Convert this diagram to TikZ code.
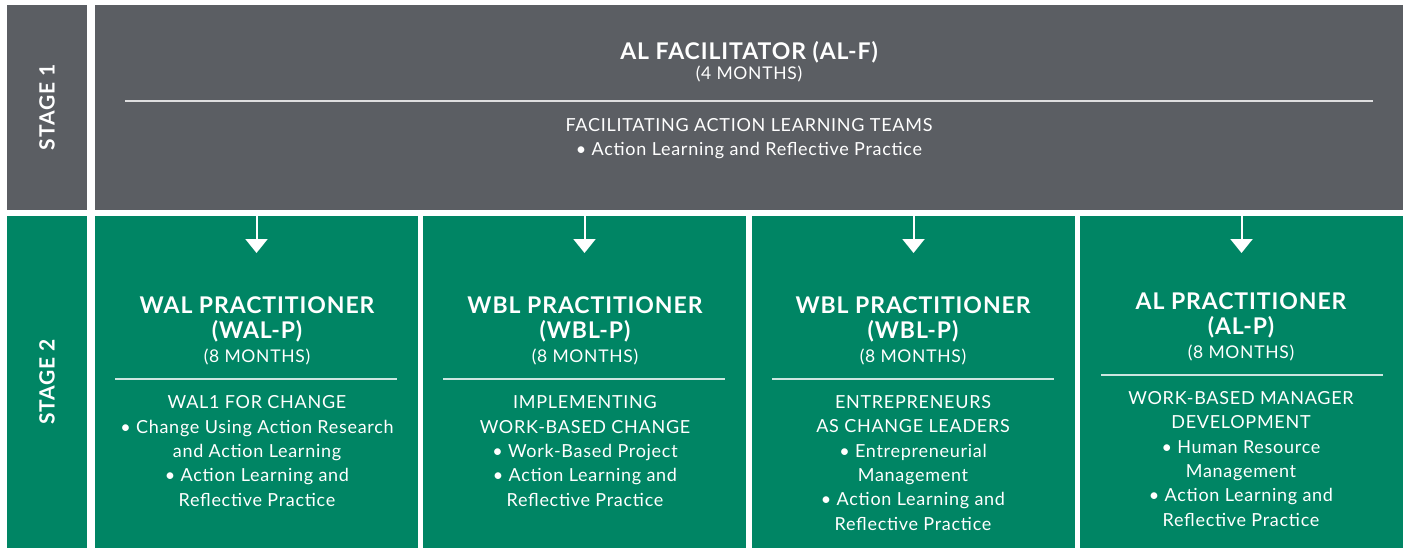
\documentclass[tikz,border=0pt]{standalone}
\usepackage{fontspec}
\setmainfont{Lato}[LetterSpace=4]
\usepackage{tikz}
\usetikzlibrary{arrows.meta,positioning,calc}
\definecolor{stagegrey}{RGB}{91,94,99}
\definecolor{stagegreen}{RGB}{0,133,100}

\begin{document}
\begin{tikzpicture}[x=1pt,y=-1pt]
			\useasboundingbox (0,0) rectangle (1407,548);
			\begin{scope}[every node/.style={rectangle,inner sep=0pt,outer sep=0pt,anchor=north west}]
				\node[fill=stagegrey,minimum width=80,minimum height=205] (S1) at (7,5) {};
				\node[fill=stagegrey,minimum width=1308,minimum height=205] (F) at (95,5) {};
				\node[fill=stagegreen,minimum width=80,minimum height=332] (S2) at (7,216) {};
				\node[fill=stagegreen,minimum width=323,minimum height=332] (P1) at (95,216) {};
				\node[fill=stagegreen,minimum width=323,minimum height=332] (P2) at (423,216) {};
				\node[fill=stagegreen,minimum width=323,minimum height=332] (P3) at (752,216) {};
				\node[fill=stagegreen,minimum width=323,minimum height=332] (P4) at (1080,216) {};
			\end{scope}

			\begin{scope}[every node/.style={text=white,inner sep=0pt,align=center,anchor=base},
				stagelabel/.style={font=\bfseries\fontsize{21}{21}\selectfont,rotate=90,anchor=center},
				heading/.style={font=\bfseries\fontsize{23}{24.5}\selectfont},
				months/.style={font=\fontsize{17.5}{24}\selectfont},
				body/.style={font=\fontsize{18}{24.3}\selectfont}]
				\node[stagelabel] (S1t) at (S1.center) {STAGE 1};
				\node[stagelabel] (S2t) at (S2.center) {STAGE 2};

				\node[heading] (Ft) at (749,60) {AL FACILITATOR (AL-F)};
				\node[months] (Fm) at (749,80) {(4 MONTHS)};
				\node[body] (Fb) at (749,156) {FACILITATING ACTION LEARNING TEAMS\\
					\textbullet\ Action Learning and Reflective Practice};

				\node[heading] (P1t) at (257,338) {WAL PRACTITIONER\\(WAL-P)};
				\node[months] (P1m) at (257,362) {(8 MONTHS)};
				\node[body] (P1b) at (257,506) {WAL1 FOR CHANGE\\
					\textbullet\ Change Using Action Research\\and Action Learning\\
					\textbullet\ Action Learning and\\Reflective Practice};

				\node[heading] (P2t) at (585,338) {WBL PRACTITIONER\\(WBL-P)};
				\node[months] (P2m) at (585,362) {(8 MONTHS)};
				\node[body] (P2b) at (585,506) {IMPLEMENTING\\WORK-BASED CHANGE\\
					\textbullet\ Work-Based Project\\
					\textbullet\ Action Learning and\\Reflective Practice};

				\node[heading] (P3t) at (913,338) {WBL PRACTITIONER\\(WBL-P)};
				\node[months] (P3m) at (913,362) {(8 MONTHS)};
				\node[body] (P3b) at (913,530) {ENTREPRENEURS\\AS CHANGE LEADERS\\
					\textbullet\ Entrepreneurial\\Management\\
					\textbullet\ Action Learning and\\Reflective Practice};

				\node[heading] (P4t) at (1241,334) {AL PRACTITIONER\\(AL-P)};
				\node[months] (P4m) at (1241,358) {(8 MONTHS)};
				\node[body] (P4b) at (1241,526) {WORK-BASED MANAGER\\DEVELOPMENT\\
					\textbullet\ Human Resource\\Management\\
					\textbullet\ Action Learning and\\Reflective Practice};
			\end{scope}

			\begin{scope}[rule/.style={draw=white,opacity=0.8,line width=1.2pt},
				flow/.style={draw=white,line width=2pt,-{Triangle[width=22pt,length=14pt]}}]
				\draw[rule] (125,101) -- (1373,101);
				\draw[rule] (115,379) -- (397,379);
				\draw[rule] (443,379) -- (725,379);
				\draw[rule] (772,379) -- (1054,379);
				\draw[rule] (1101,375) -- (1383,375);
				\foreach \p in {P1,P2,P3,P4}{
					\coordinate (\p tip) at ([yshift=-37pt]\p.north);
					\draw[flow] (\p.north) -- (\p tip);
				}
			\end{scope}
		\end{tikzpicture}
\end{document}
